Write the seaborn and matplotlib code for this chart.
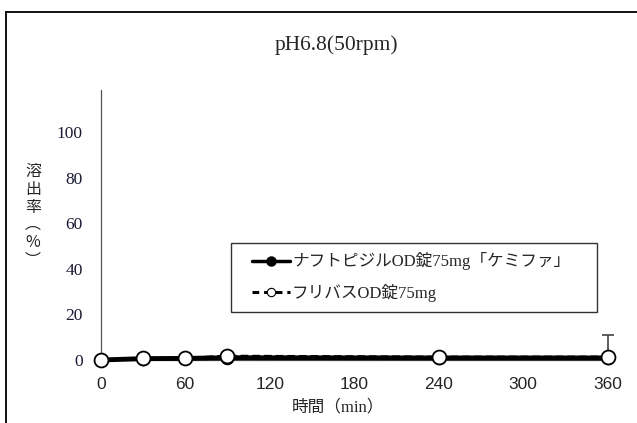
import matplotlib
matplotlib.use("Agg")
import matplotlib.pyplot as plt
from matplotlib.lines import Line2D
from matplotlib.patches import Rectangle
import seaborn as sns
import pandas as pd

sns.set_style("white")
plt.rcParams['font.family'] = ['Liberation Serif', 'Noto Sans CJK JP', 'DejaVu Sans']

# ---- data ----
times = [0, 30, 60, 90, 240, 360]
nafto = [0.0, 0.6, 0.7, 1.0, 0.9, 0.9]
furi = [0.0, 1.0, 1.0, 1.9, 1.5, 1.5]
furi_err_t = [360]
furi_err_v = [1.5]
furi_err_up = [9.5]
label_nafto = "ナフトピジルOD錠75mg「ケミファ」"
label_furi = "フリバスOD錠75mg"
title = "pH6.8(50rpm)"
xticks = [0, 60, 120, 180, 240, 300, 360]
yticks = [0, 20, 40, 60, 80, 100]

W, H = 637, 423
fig = plt.figure(figsize=(W / 100, H / 100), dpi=100)
fig.patch.set_facecolor("white")

# outer frame (cut at right and bottom)
fig.add_artist(Line2D([6 / W, 1.0], [1 - 12 / H, 1 - 12 / H], color="black", lw=1.3, transform=fig.transFigure))
fig.add_artist(Line2D([6 / W, 6 / W], [1 - 12 / H, 0.0], color="black", lw=1.3, transform=fig.transFigure))

ax = fig.add_axes([100.7 / W, 1 - 360 / H, (607.7 - 100.7) / W, (360 - 90) / H])
ax.set_facecolor("white")

df1 = pd.DataFrame({"t": times, "v": nafto})
df2 = pd.DataFrame({"t": times, "v": furi})

sns.lineplot(data=df1, x="t", y="v", ax=ax, color="black", lw=3.5, marker="o",
             markersize=9, markerfacecolor="black", markeredgecolor="black",
             clip_on=False, zorder=3)
sns.lineplot(data=df2, x="t", y="v", ax=ax, color="black", lw=1.4, linestyle=(0, (4, 2)),
             marker="o", markersize=10, markerfacecolor="white", markeredgecolor="black",
             markeredgewidth=1.3, clip_on=False, zorder=4)
eb = ax.errorbar(furi_err_t, furi_err_v, yerr=[[0], furi_err_up], fmt="none", ecolor="#333333",
                 elinewidth=1.1, capsize=4, capthick=1.1, zorder=2)
for art in list(eb.lines[1]) + list(eb.lines[2]):
    art.set_clip_on(False)

ax.set_xlim(0, 360)
ax.set_ylim(0, 118.4)
ax.set_xticks(xticks)
ax.set_yticks(yticks)
ax.set_xticklabels([str(v) for v in xticks], family=['Liberation Sans Narrow', 'Liberation Sans'], fontsize=12.5)
ax.set_yticklabels([str(v) for v in yticks], family=['Liberation Serif'], fontsize=12.5, color="#1a1a33")
ax.tick_params(axis="both", direction="in", length=5, width=0.8, color="#555555")
ax.tick_params(axis="y", pad=13)
ax.tick_params(axis="x", pad=12)
for s in ["top", "right"]:
    ax.spines[s].set_visible(False)
for s in ["left", "bottom"]:
    ax.spines[s].set_color("#555555")
    ax.spines[s].set_linewidth(0.9)
ax.set_xlabel("")
ax.set_ylabel("")

fig.text(336 / W, 1 - 45 / H, title, ha="center", va="center", fontsize=15.5,
         family=['Liberation Serif'])
fig.text(338 / W, 1 - 407 / H, "時間（min）", ha="center", va="center", fontsize=12,
         family=['Liberation Serif', 'Noto Sans CJK JP', 'DejaVu Sans'])
fig.text(33 / W, 1 - 216 / H, "溶\n出\n率\n︵\n%\n︶", ha="center", va="center", fontsize=11.5,
         linespacing=1.05, family=['Noto Sans CJK JP', 'DejaVu Sans'])

# legend frame
fig.add_artist(Rectangle((231 / W, 1 - 312 / H), (597 - 231) / W, (312 - 243) / H,
                         transform=fig.transFigure, facecolor="white", edgecolor="#333333",
                         lw=1.0, zorder=5))
h1 = Line2D([], [], color="black", lw=2.5, marker="o", markersize=6.5, markerfacecolor="black")
h2 = Line2D([], [], color="black", lw=2.2, linestyle=(0, (2.2, 1.6)), marker="o", markersize=6,
            markerfacecolor="white", markeredgewidth=0.8)
leg = fig.legend([h1, h2], [label_nafto, label_furi],
                 loc="center left", bbox_to_anchor=(252 / W, 1 - 277 / H),
                 frameon=False, handlelength=2.3, handletextpad=0.1, labelspacing=0.8,
                 borderpad=0.0, borderaxespad=0.0,
                 prop={'family': ['Liberation Serif', 'Noto Sans CJK JP'], 'size': 12})
leg.set_zorder(6)

fig.savefig("out.png", dpi=100)
